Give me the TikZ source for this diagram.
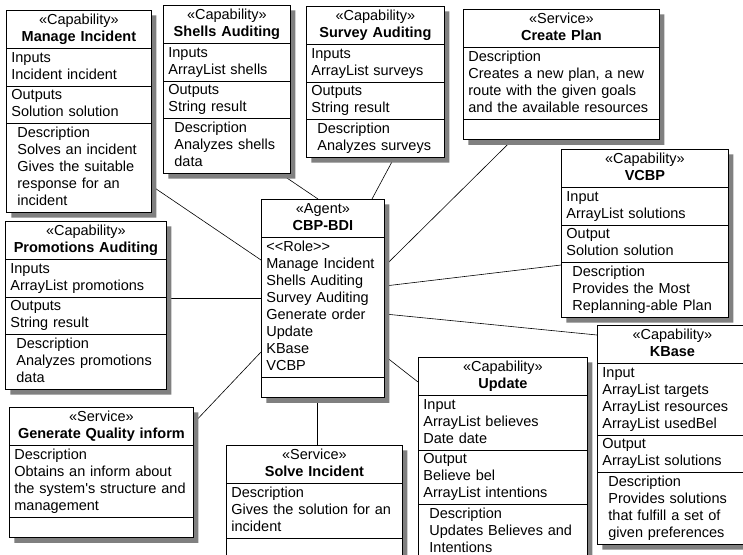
\documentclass[tikz,border=0pt]{standalone}
\usepackage{fontspec}
\setmainfont{Liberation Sans}
\usetikzlibrary{positioning,calc,shapes.multipart,shadows,backgrounds}
\newcommand*{\head}[2]{\centering«#1»\\\textbf{#2}\strut\par}
\newcommand{\capdesc}[1]{\leftskip=6pt\relax Description\\#1\strut\par}

\begin{document}
\begin{tikzpicture}[x=1pt,y=-1pt,
  umlbox/.style={rectangle split,rectangle split parts=#1,draw,fill=white,
    line width=0.8pt,inner xsep=5pt,inner ysep=1.5pt,align=left,
    anchor=north west,font=\fontsize{14.5}{17}\selectfont,
    execute at begin node=\strut,execute at end node={\ifhmode\strut\fi},
    drop shadow={shadow xshift=5pt,shadow yshift=-5pt,fill=black!50,opacity=1}},
  link/.style={line width=0.6pt}]
\useasboundingbox (0,0) rectangle (743,554);
% The agent in the middle
\node[umlbox=3,text width=113pt] (agent) at (261,199) {\head{Agent}{CBP-BDI}
  \nodepart{two}<{}<Role>{}>\\Manage Incident\\Shells Auditing\\Survey Auditing\\
    Generate order\\Update\\KBase\\VCBP
  \nodepart{three}};
% Capabilities
\node[umlbox=4,text width=135pt] (manage) at (6,10) {\head{Capability}{Manage Incident}
  \nodepart{two}Inputs\\Incident incident
  \nodepart{three}Outputs\\Solution solution
  \nodepart{four}\capdesc{Solves an incident\\Gives the suitable\\response for an\\incident}};
\node[umlbox=4,text width=117pt] (shells) at (163,5) {\head{Capability}{Shells Auditing}
  \nodepart{two}Inputs\\ArrayList shells
  \nodepart{three}Outputs\\String result
  \nodepart{four}\capdesc{Analyzes shells\\data}};
\node[umlbox=4,text width=128pt] (survey) at (306,6) {\head{Capability}{Survey Auditing}
  \nodepart{two}Inputs\\ArrayList surveys
  \nodepart{three}Outputs\\String result
  \nodepart{four}\capdesc{Analyzes surveys}};
\node[umlbox=4,text width=151pt] (promo) at (5,221) {\head{Capability}{Promotions Auditing}
  \nodepart{two}Inputs\\ArrayList promotions
  \nodepart{three}Outputs\\String result
  \nodepart{four}\capdesc{Analyzes promotions\\data}};
\node[umlbox=4,text width=157pt] (vcbp) at (561,149) {\head{Capability}{VCBP}
  \nodepart{two}Input\\ArrayList solutions
  \nodepart{three}Output\\Solution solution
  \nodepart{four}\capdesc{Provides the Most\\Replanning-able Plan}};
\node[umlbox=4,text width=159pt] (update) at (418,357) {\head{Capability}{Update}
  \nodepart{two}Input\\ArrayList believes\\Date date
  \nodepart{three}Output\\Believe bel\\ArrayList intentions
  \nodepart{four}\capdesc{Updates Believes and\\Intentions}};
\node[umlbox=4,text width=140pt] (kbase) at (597,325) {\head{Capability}{KBase}
  \nodepart{two}Input\\ArrayList targets\\ArrayList resources\\ArrayList usedBel
  \nodepart{three}Output\\ArrayList solutions
  \nodepart{four}\capdesc{Provides solutions\\that fulfill a set of\\given preferences}};
% Services
\node[umlbox=3,text width=186pt] (plan) at (463,9) {\head{Service}{Create Plan}
  \nodepart{two}Description\\Creates a new plan, a new\\route with the given goals\\
    and the available resources
  \nodepart{three}};
\node[umlbox=3,text width=174pt] (quality) at (9,407) {\head{Service}{Generate Quality inform}
  \nodepart{two}Description\\Obtains an inform about\\the system\textquotesingle s structure and\\
    management
  \nodepart{three}};
\node[umlbox=3,text width=166pt] (solve) at (226,445) {\head{Service}{Solve Incident}
  \nodepart{two}Description\\Gives the solution for an\\incident
  \nodepart{three}};
% Links from the agent, kept under the boxes
\begin{scope}[on background layer]
\fill[white] (0,0) rectangle (743,554);
\draw[link] ($(agent.north west)+(0,61)$) -- ($(manage.north east)+(0,176)$);
\draw[link] ($(agent.north west)+(57,0)$) -- ($(shells.south west)+(118,0)$);
\draw[link] ($(agent.north west)+(111,0)$) -- ($(survey.south west)+(88,0)$);
\draw[link] ($(agent.north east)+(0,67)$) -- ($(plan.south west)+(49,0)$);
\draw[link] ($(agent.north east)+(0,87)$) -- ($(vcbp.north west)+(0,116)$);
\draw[link] ($(agent.north east)+(0,115)$) -- ($(kbase.north west)+(0,10)$);
\draw[link] ($(agent.north east)+(0,157)$) -- ($(update.north west)+(0,25)$);
\draw[link] ($(agent.north west)+(0,99)$) -- ($(promo.north east)+(0,77)$);
\draw[link] ($(agent.north west)+(0,153)$) -- ($(quality.north east)+(0,16)$);
\draw[link] ($(agent.south west)+(56,0)$) -- ($(solve.north west)+(91,0)$);
\end{scope}
\end{tikzpicture}
\end{document}
